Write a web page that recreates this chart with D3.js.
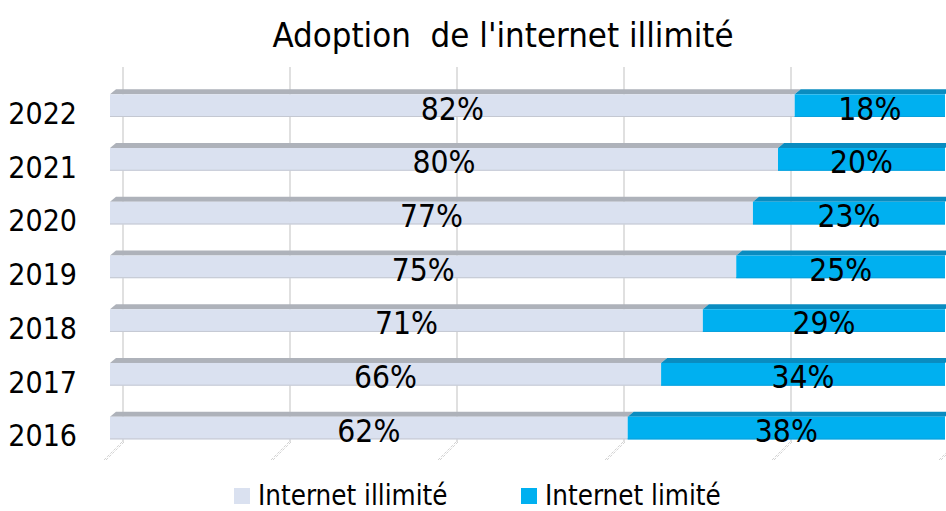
<!DOCTYPE html>
<html lang="fr">
<head>
	<meta charset="UTF-8">
	<title>Adoption de l'internet illimité</title>
	<style>
		html, body {width: 100%; height: 100%; padding: 0; margin: 0; background: #fff; overflow: hidden;}
		svg text {font-family: Tahoma, 'DejaVu Sans Condensed', 'DejaVu Sans', sans-serif; fill: #000;}
	</style>
	<script src="https://d3js.org/d3.v7.min.js"></script>
</head>
<body>
<script>
	// Data
	var years = ['2016', '2017', '2018', '2019', '2020', '2021', '2022'];
	var illimite = [62, 66, 71, 75, 77, 80, 82];
	var limite = [38, 34, 29, 25, 23, 20, 18];
	var seriesNames = ['Internet illimité', 'Internet limité'];
	var gridTicks = [0, 20, 40, 60, 80, 100];

	var width = 946, height = 511;
	var depthX = 6, depthY = 5; // 3D top face offset
	var colors = {
		front: ['#dae1f0', '#00b0f0'],
		top: ['#aeb2ba', '#0a8cc0'],
		edge: ['#c4c8d2', '#0aa0dc']
	};

	var svg = d3.select('body').append('svg')
		.attr('width', width)
		.attr('height', height);

	var x = d3.scaleLinear().domain([0, 100]).range([110, 945]);
	var y = d3.scaleBand()
		.domain(years.slice().reverse())
		.range([94.3, 439.4])
		.paddingInner(0.5775)
		.paddingOuter(0);

	// title
	svg.append('text')
		.attr('x', 503)
		.attr('y', 47)
		.attr('text-anchor', 'middle')
		.attr('font-size', 34.5)
		.style('white-space', 'pre')
		.text("Adoption  de l'internet illimité");

	// back wall gridlines
	var grid = svg.append('g').attr('class', 'grid');
	grid.selectAll('line')
		.data(gridTicks)
		.enter().append('line')
		.attr('x1', function (d) { return x(d) + 13; })
		.attr('x2', function (d) { return x(d) + 13; })
		.attr('y1', 67)
		.attr('y2', 442)
		.attr('stroke', '#d6d6d6')
		.attr('stroke-width', 1.5);
	// floor lines (little diagonal hatches)
	[0, 2].forEach(function (off) {
		grid.selectAll('path.floor' + off)
			.data(gridTicks)
			.enter().append('path')
			.attr('class', 'floor' + off)
			.attr('d', function (d) {
				var x0 = x(d) + 13 + off - 1;
				return 'M' + x0 + ',442 L' + (x0 - 18) + ',460';
			})
			.attr('fill', 'none')
			.attr('stroke', '#c8c8c8')
			.attr('stroke-width', 0.8)
			.attr('stroke-dasharray', '3,1.5');
	});

	// stacked rows
	var rows = years.map(function (yr, i) {
		return {year: yr, segs: [
			{s: 0, v0: 0, v1: illimite[i], val: illimite[i]},
			{s: 1, v0: illimite[i], v1: illimite[i] + limite[i], val: limite[i]}
		]};
	});

	var row = svg.selectAll('.row')
		.data(rows)
		.enter().append('g')
		.attr('class', 'row')
		.attr('transform', function (d) { return 'translate(0,' + y(d.year) + ')'; });

	var bh = y.bandwidth();
	var seg = row.selectAll('.seg')
		.data(function (d) { return d.segs; })
		.enter().append('g')
		.attr('class', 'seg');

	// top face
	seg.append('path')
		.attr('d', function (d) {
			var a = x(d.v0), b = x(d.v1);
			return 'M' + a + ',0 L' + (a + depthX) + ',' + (-depthY) +
				' L' + (b + depthX) + ',' + (-depthY) + ' L' + b + ',0 Z';
		})
		.attr('fill', function (d) { return colors.top[d.s]; });
	// front face
	seg.append('rect')
		.attr('x', function (d) { return x(d.v0); })
		.attr('y', 0)
		.attr('width', function (d) { return x(d.v1) - x(d.v0); })
		.attr('height', bh)
		.attr('fill', function (d) { return colors.front[d.s]; });
	// bottom edge
	seg.append('line')
		.attr('x1', function (d) { return x(d.v0); })
		.attr('x2', function (d) { return x(d.v1); })
		.attr('y1', bh - 0.5)
		.attr('y2', bh - 0.5)
		.attr('stroke', function (d) { return colors.edge[d.s]; })
		.attr('stroke-width', 1);

	// value labels
	seg.append('text')
		.attr('x', function (d) { return (x(d.v0) + x(d.v1)) / 2; })
		.attr('y', bh + 2.5)
		.attr('text-anchor', 'middle')
		.attr('font-size', 31.5)
		.text(function (d) { return d.val + '%'; });

	// category labels
	row.append('text')
		.attr('x', 77)
		.attr('y', bh + 7)
		.attr('text-anchor', 'end')
		.attr('font-size', 30)
		.text(function (d) { return d.year; });

	// legend
	var legendX = [234, 521];
	var legend = svg.selectAll('.legend')
		.data(seriesNames)
		.enter().append('g')
		.attr('class', 'legend')
		.attr('transform', function (d, i) { return 'translate(' + legendX[i] + ',488)'; });
	legend.append('rect')
		.attr('width', 16)
		.attr('height', 16)
		.attr('fill', function (d, i) { return colors.front[i]; });
	legend.append('text')
		.attr('x', 24)
		.attr('y', 17)
		.attr('font-size', 27.5)
		.text(function (d) { return d; });
</script>
</body>
</html>
